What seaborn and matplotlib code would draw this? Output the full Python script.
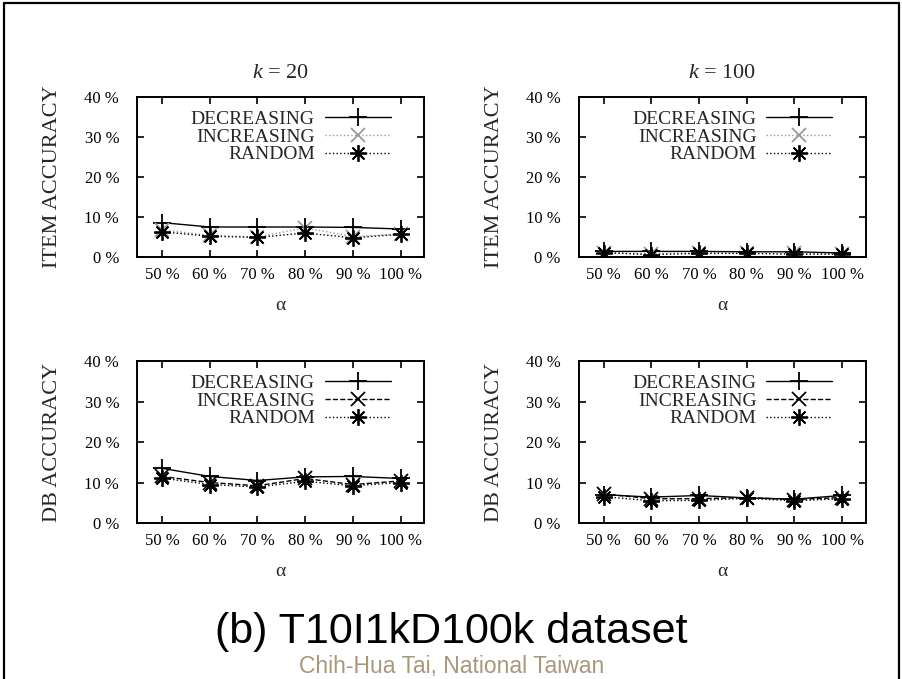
import matplotlib
matplotlib.use("Agg")
import matplotlib.pyplot as plt
from matplotlib.lines import Line2D
import numpy as np
import pandas as pd
import seaborn as sns

# alpha values (%)
alpha = [50, 60, 70, 80, 90, 100]
tick_labels = ["50 %", "60 %", "70 %", "80 %", "90 %", "100 %"]
y_ticks = [0, 10, 20, 30, 40]
y_tick_labels = ["0 %", "10 %", "20 %", "30 %", "40 %"]

# item accuracy, k = 20
item_k20_dec = [8.6, 7.5, 7.5, 7.5, 7.4, 7.0]
item_k20_inc = [6.8, 5.4, 5.0, 7.3, 5.1, 5.7]
item_k20_rand = [6.3, 5.2, 4.9, 6.0, 4.8, 5.7]

# item accuracy, k = 100
item_k100_dec = [1.4, 1.4, 1.4, 1.3, 1.3, 1.0]
item_k100_inc = [1.0, 0.8, 1.1, 1.1, 0.9, 0.8]
item_k100_rand = [1.1, 0.6, 0.9, 0.9, 0.7, 0.7]

# db accuracy, k = 20
db_k20_dec = [13.5, 11.5, 10.5, 11.4, 11.5, 11.0]
db_k20_inc = [11.5, 10.0, 9.2, 11.0, 9.5, 10.4]
db_k20_rand = [11.1, 9.5, 8.9, 10.3, 9.2, 10.0]

# db accuracy, k = 100
db_k100_dec = [7.0, 6.4, 6.8, 6.2, 5.9, 6.8]
db_k100_inc = [7.2, 6.0, 6.0, 6.3, 5.8, 6.3]
db_k100_rand = [6.5, 5.5, 5.6, 6.1, 5.5, 6.0]

series_names = ["DECREASING", "INCREASING", "RANDOM"]

sns.set_theme(style="white")
plt.rcParams["font.family"] = ["Liberation Serif", "DejaVu Serif"]
plt.rcParams["mathtext.fontset"] = "custom"
plt.rcParams["mathtext.rm"] = "Liberation Serif"
plt.rcParams["mathtext.it"] = "Liberation Serif:italic"

fig = plt.figure(figsize=(9.03, 6.79), dpi=100)

pos = {
    "tl": [0.152, 0.6215, 0.318, 0.2356],
    "tr": [0.641, 0.6215, 0.318, 0.2356],
    "bl": [0.152, 0.2297, 0.318, 0.2386],
    "br": [0.641, 0.2297, 0.318, 0.2386],
}

panels = [
    ("tl", "$k$ = 20", "ITEM ACCURACY", [item_k20_dec, item_k20_inc, item_k20_rand], True),
    ("tr", "$k$ = 100", "ITEM ACCURACY", [item_k100_dec, item_k100_inc, item_k100_rand], True),
    ("bl", None, "DB ACCURACY", [db_k20_dec, db_k20_inc, db_k20_rand], False),
    ("br", None, "DB ACCURACY", [db_k100_dec, db_k100_inc, db_k100_rand], False),
]

asterisk = (8, 2, 0)

for key, title, ylabel, values, top_row in panels:
    ax = fig.add_axes(pos[key])
    inc_color = "#999999" if top_row else "black"
    inc_style = ":" if top_row else "--"
    styles = [
        dict(color="black", linestyle="-", marker="+", markersize=13),
        dict(color=inc_color, linestyle=inc_style, marker="x", markersize=10),
        dict(color="black", linestyle=":", marker=asterisk, markersize=12),
    ]
    for name, vals, st in zip(series_names, values, styles):
        df = pd.DataFrame({"alpha": alpha, "acc": vals})
        sns.lineplot(data=df, x="alpha", y="acc", ax=ax, label=name,
                     linewidth=1.0, markeredgewidth=1.3,
                     markeredgecolor=st["color"], markerfacecolor=st["color"], **st)

    ax.set_xlim(44.8, 105)
    ax.set_ylim(0, 40)
    ax.set_xticks(alpha)
    ax.set_xticklabels(tick_labels, fontsize=12)
    ax.set_yticks(y_ticks)
    ax.set_yticklabels(y_tick_labels, fontsize=12)
    ax.tick_params(direction="in", length=5, width=1.2, top=True, right=True,
                   bottom=True, left=True, colors="black")
    ax.tick_params(axis="y", pad=13)
    ax.tick_params(axis="x", pad=7)
    for sp in ax.spines.values():
        sp.set_color("black")
        sp.set_linewidth(1.4)
    ax.set_xlabel("α", fontsize=14, labelpad=10)
    ax.set_ylabel(ylabel, fontsize=16)
    ax.yaxis.set_label_coords(-0.262, 0.5)
    if title:
        ax.set_title(title, fontsize=16, pad=14)
    leg = ax.legend(loc="upper right", frameon=False, markerfirst=False,
                    fontsize=14, handlelength=3.4, handletextpad=0.5,
                    labelspacing=0.0, borderaxespad=0.3,
                    bbox_to_anchor=(0.93, 1.0))

fig.text(0.5, 0.069, "(b) T10I1kD100k dataset", ha="center", va="center",
         fontsize=31, family="Liberation Sans", color="black")
fig.text(0.5, 0.019, "Chih-Hua Tai, National Taiwan", ha="center", va="center",
         fontsize=16.5, family="Liberation Sans", color="#a8987a")

# outer slide border
fig.add_artist(Line2D([0.004, 0.004], [0.0, 0.996], color="black", linewidth=1.6))
fig.add_artist(Line2D([0.004, 0.996], [0.996, 0.996], color="black", linewidth=1.6))
fig.add_artist(Line2D([0.996, 0.996], [0.0, 0.996], color="black", linewidth=1.6))

fig.savefig("out.png", dpi=100)
